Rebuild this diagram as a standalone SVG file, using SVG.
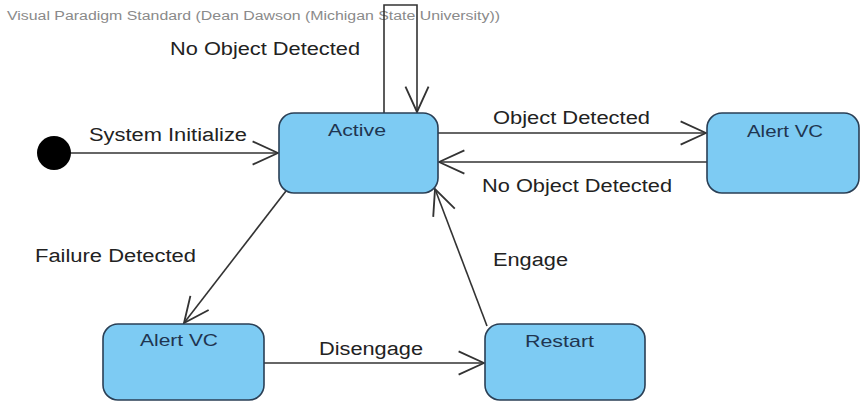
<svg xmlns="http://www.w3.org/2000/svg" width="861" height="404" viewBox="0 0 861 404">
  <style>
    .state { fill: #7dcbf3; stroke: #2a3f55; stroke-width: 1.6; }
    .state-label { font-family: "Liberation Sans", Arial, sans-serif; font-size: 17px; fill: #1f3550; }
    .edge { fill: none; stroke: #333333; stroke-width: 1.6; }
    .edge-label { font-family: "Liberation Sans", Arial, sans-serif; font-size: 18px; fill: #222222; }
    .header { font-family: "Liberation Sans", Arial, sans-serif; font-size: 12px; fill: #8a8a8a; }
  </style>
  <defs>
    <marker id="open-arrow" markerUnits="userSpaceOnUse" markerWidth="30" markerHeight="30" viewBox="-24 -12 26 24" refX="0" refY="0" orient="auto">
      <path d="M-22,-10 L0,0 L-22,10" fill="none" stroke="#333333" stroke-width="1.6"/>
    </marker>
  </defs>

  <rect width="861" height="404" fill="#ffffff"/>

  <text class="header" x="7" y="20" textLength="493" lengthAdjust="spacingAndGlyphs">Visual Paradigm Standard (Dean Dawson (Michigan State University))</text>

  <!-- transitions -->
  <g id="connectors">
    <line class="edge" x1="71" y1="153" x2="278" y2="153" marker-end="url(#open-arrow)"/>
    <path class="edge" d="M384,113 V5 H417 V112" marker-end="url(#open-arrow)"/>
    <line class="edge" x1="438" y1="133" x2="706" y2="133" marker-end="url(#open-arrow)"/>
    <line class="edge" x1="707" y1="162" x2="439" y2="162" marker-end="url(#open-arrow)"/>
    <line class="edge" x1="286" y1="191" x2="184" y2="323" marker-end="url(#open-arrow)"/>
    <line class="edge" x1="264" y1="363" x2="484" y2="363" marker-end="url(#open-arrow)"/>
    <line class="edge" x1="487" y1="326" x2="435" y2="189" marker-end="url(#open-arrow)"/>

    <text class="edge-label" x="89" y="141" textLength="158" lengthAdjust="spacingAndGlyphs">System Initialize</text>
    <text class="edge-label" x="170" y="55" textLength="190" lengthAdjust="spacingAndGlyphs">No Object Detected</text>
    <text class="edge-label" x="493" y="124" textLength="157" lengthAdjust="spacingAndGlyphs">Object Detected</text>
    <text class="edge-label" x="482" y="192" textLength="190" lengthAdjust="spacingAndGlyphs">No Object Detected</text>
    <text class="edge-label" x="35" y="262" textLength="161" lengthAdjust="spacingAndGlyphs">Failure Detected</text>
    <text class="edge-label" x="319" y="355" textLength="104" lengthAdjust="spacingAndGlyphs">Disengage</text>
    <text class="edge-label" x="493" y="266" textLength="75" lengthAdjust="spacingAndGlyphs">Engage</text>
  </g>

  <g id="initial">
    <circle cx="54" cy="153" r="17" fill="#000000"/>
  </g>

  <g id="active">
    <rect class="state" x="279" y="113" width="159" height="80" rx="15" ry="15"/>
    <text class="state-label" x="328" y="136" textLength="58" lengthAdjust="spacingAndGlyphs">Active</text>
  </g>

  <g id="alert-vc-right">
    <rect class="state" x="707" y="113" width="152" height="80" rx="15" ry="15"/>
    <text class="state-label" x="747" y="137" textLength="76" lengthAdjust="spacingAndGlyphs">Alert VC</text>
  </g>

  <g id="alert-vc-bottom">
    <rect class="state" x="103" y="324" width="161" height="76" rx="15" ry="15"/>
    <text class="state-label" x="140" y="346" textLength="78" lengthAdjust="spacingAndGlyphs">Alert VC</text>
  </g>

  <g id="restart">
    <rect class="state" x="485" y="324" width="160" height="76" rx="15" ry="15"/>
    <text class="state-label" x="525" y="347" textLength="69" lengthAdjust="spacingAndGlyphs">Restart</text>
  </g>
</svg>
